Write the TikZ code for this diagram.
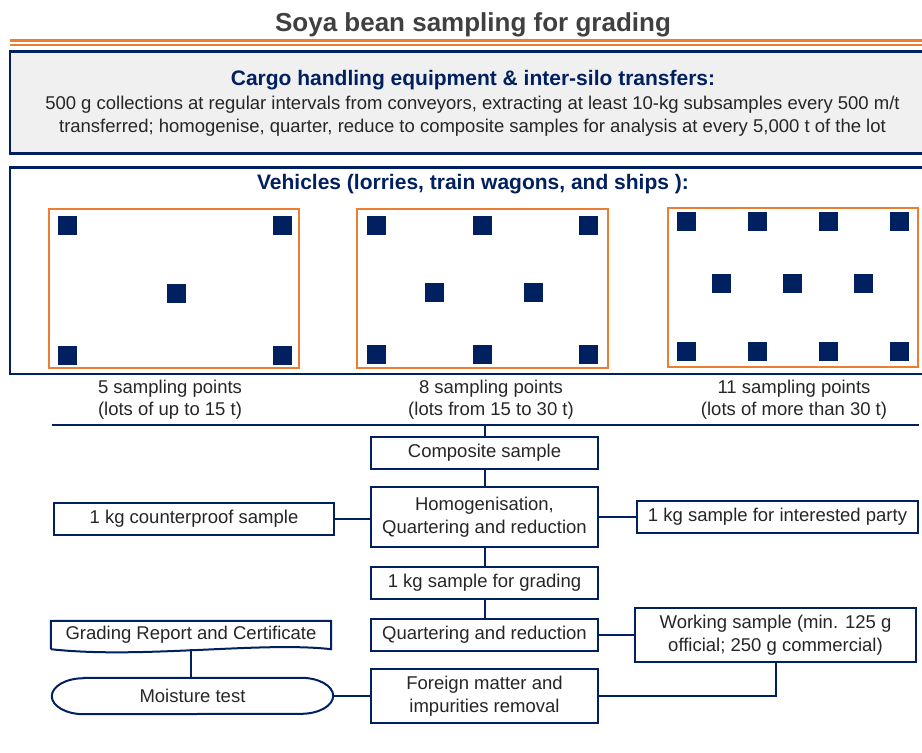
\documentclass[tikz,border=0pt]{standalone}
\usepackage{fontspec}
\setmainfont{Liberation Sans}
\definecolor{navy}{RGB}{0,32,96}
\definecolor{lotorange}{RGB}{237,125,49}
\definecolor{panelgray}{RGB}{240,240,240}
\definecolor{txtgray}{RGB}{38,38,38}
\definecolor{titlegray}{RGB}{64,64,64}
\begin{document}
\begin{tikzpicture}[x=1pt,y=1pt,
    every node/.style={text=txtgray, font=\fontsize{18.5}{22.5}\selectfont},
    head/.style={text=navy, font=\bfseries\fontsize{21}{25}\selectfont},
    flowbox/.style={draw=navy, line width=2pt, fill=white, align=center, inner sep=0pt},
    link/.style={draw=navy, line width=2pt},
    lot/.style={draw=lotorange, line width=2pt, fill=white},
    spot/.style={fill=navy}]
    \useasboundingbox (0,0) rectangle (922,-753);
    \node[text=titlegray, font=\bfseries\fontsize{26}{30}\selectfont] (title) at (473,-25) {Soya bean sampling for grading};
    \draw[lotorange, line width=3pt] (10,-40.5) -- (922,-40.5);
    \draw[lotorange, line width=1.5pt] (10,-45) -- (922,-45);
    \fill[panelgray] (10,-51) rectangle (922,-153);
    \draw[navy, line width=3pt] (922,-51) -- (9,-51);
    \draw[navy, line width=1.5pt] (10,-51) -- (10,-153);
    \draw[navy, line width=3pt] (9,-153) -- (922,-153);
    \node[head] (cargo) at (473,-80.5) {Cargo handling equipment \& inter-silo transfers:};
    \node[align=center] (cargotext) at (472.5,-116) {500 g collections at regular intervals from conveyors, extracting at least 10-kg subsamples every 500 m/t\\transferred; homogenise, quarter, reduce to composite samples for analysis at every 5,000 t of the lot};
    \draw[navy, line width=3pt] (922,-167) -- (9,-167);
    \draw[navy, line width=1.5pt] (10,-167) -- (10,-374);
    \draw[navy, line width=2pt] (9,-374) -- (922,-374);
    \node[head] (veh) at (473,-184) {Vehicles (lorries, train wagons, and ships ):};
    \draw[lot] (49,-209) rectangle (299,-368);
    \draw[lot] (357,-209) rectangle (608,-368);
    \draw[lot] (667.5,-208) rectangle (918,-367);
    \foreach \x/\y in {67.5/225.5, 282.5/225.5, 176/293, 67.5/355, 282.5/355,
        376/225.5, 482/225.5, 588.5/225.5, 434/292, 533.5/292, 376/354, 482/354, 588.5/354,
        686/221, 757/221, 828/221, 899.5/221, 721.5/283, 792.5/283, 863.5/283,
        686/351, 757/351, 828/351, 899.5/351}
        \fill[spot] (\x,-\y) ++(-9.5,-9.5) rectangle ++(19,19);
    \node[align=center] (cap5) at (170,-399.5) {5 sampling points\\(lots of up to 15 t)};
    \node[align=center] (cap8) at (491,-399.5) {8 sampling points\\(lots from 15 to 30 t)};
    \node[align=center] (cap11) at (794,-399.5) {11 sampling points\\(lots of more than 30 t)};
    \coordinate (sepL) at (52,-425);
    \coordinate (sepR) at (919,-425);
    \draw[link] (sepL) -- (sepR);
    \node[flowbox, minimum width=227, minimum height=32] (comp) at (484.5,-453) {Composite sample};
    \node[flowbox, minimum width=227, minimum height=60] (homog) at (484.5,-517) {Homogenisation,\\Quartering and reduction};
    \node[flowbox, minimum width=280, minimum height=32] (counter) at (194,-519) {1 kg counterproof sample};
    \node[flowbox, minimum width=281, minimum height=32] (party) at (777.5,-517) {1 kg sample for interested party};
    \node[flowbox, minimum width=227, minimum height=32] (grade) at (484.5,-583) {1 kg sample for grading};
    \node[flowbox, minimum width=227, minimum height=32] (quart) at (484.5,-635) {Quartering and reduction};
    \node[flowbox, minimum width=281, minimum height=54] (work) at (775.5,-635) {Working sample (min. 125 g\\official; 250 g commercial)};
    \node[flowbox, minimum width=227, minimum height=54] (foreign) at (484.5,-696) {Foreign matter and\\impurities removal};
    \node[minimum width=281, minimum height=36, inner sep=0pt] (moist) at (192.5,-696) {Moisture test};
    \node[minimum width=280, minimum height=28, inner sep=0pt] (report) at (191,-635) {Grading Report and Certificate};
    % terminator and document outlines
    \draw[link] ([xshift=32]moist.north west) -- ([xshift=-32]moist.north east)
        arc[start angle=90, end angle=-90, x radius=32pt, y radius=18pt]
        -- ([xshift=32]moist.south west)
        arc[start angle=270, end angle=90, x radius=32pt, y radius=18pt] -- cycle;
    \draw[link] (report.south west) -- (report.north west) -- (report.north east) -- (report.south east)
        .. controls +(-70,8) and +(90,-10) .. (report.south west);
    \draw[link] (comp.north) -- (comp.north |- sepL);
    \draw[link] (comp) -- (homog);
    \draw[link] (counter.east) -- (counter.east -| homog.west);
    \draw[link] (homog.east) -- (homog.east -| party.west);
    \draw[link] (homog) -- (grade);
    \draw[link] (grade) -- (quart);
    \draw[link] (quart.east) -- (quart.east -| work.west);
    \draw[link] (work.south) -- (work.south |- foreign.east) -- (foreign.east);
    \draw[link] (moist.east) -- (foreign.west);
    \draw[link] (report.south) -- (report.south |- moist.north);
\end{tikzpicture}
\end{document}
